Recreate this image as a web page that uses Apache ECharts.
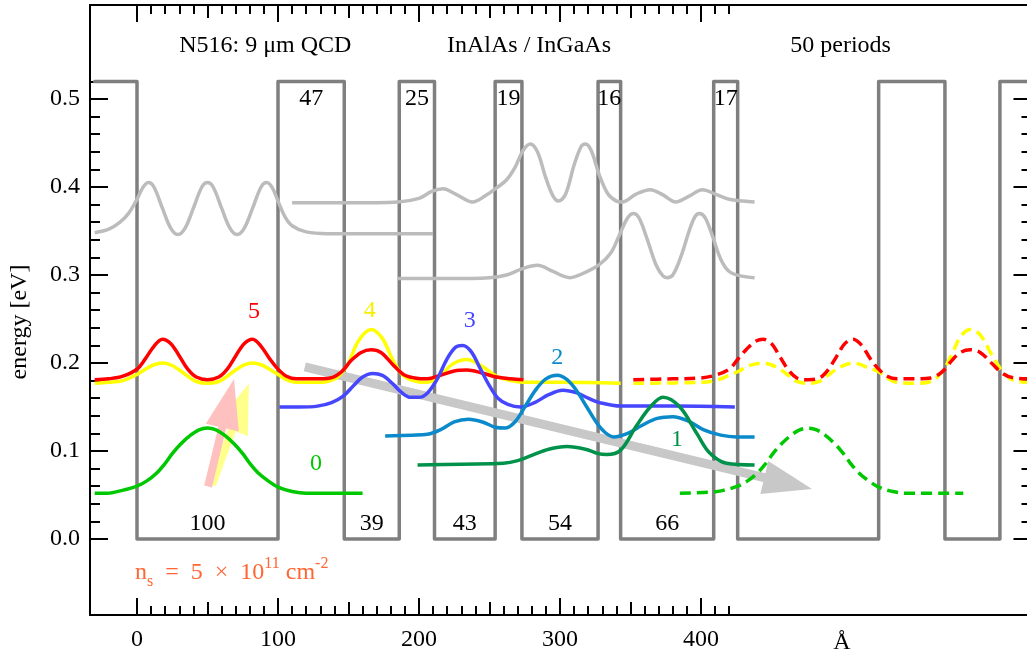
<!DOCTYPE html>
<html>
<head>
<meta charset="utf-8">
<script src="https://cdn.jsdelivr.net/npm/echarts@6.0.0/dist/echarts.min.js"></script>
<style>
html,body{margin:0;padding:0;background:#ffffff;}
#chart{width:1027px;height:660px;}
</style>
</head>
<body>
<div id="chart"></div>
<script>
// ================= DATA =================
const layerThickness = [100, 47, 39, 25, 43, 19, 54, 16, 66, 17]; // Å : well, barrier, well, ...
const barrierHeight = 0.52;   // eV
const profileStartX = -30;    // Å
const periodsDrawn = 2;

const xTickLabels = ['0', '100', '200', '300', '400'];
const yTickLabels = ['0.0', '0.1', '0.2', '0.3', '0.4', '0.5'];
const xUnitLabel = 'Å';
const yAxisTitle = 'energy [eV]';
const headerTexts = ['N516: 9 μm QCD', 'InAlAs / InGaAs', '50 periods'];
const stateNames = ['0', '1', '2', '3', '4', '5'];

// wavefunctions |psi|^2 offset by level energy: [Å, eV]
const state0 = [[-30,0.052],[-21,0.052],[-11,0.055],[0,0.060],[7,0.066],[14,0.075],[20,0.086],[25,0.097],[31,0.108],[38,0.118],[44,0.124],[50,0.126],[56,0.124],[62,0.118],[69,0.108],[75,0.097],[80,0.086],[86,0.075],[93,0.066],[100,0.059],[110,0.054],[120,0.052],[160,0.052]];
const state1 = [[199,0.084],[230,0.085],[260,0.086],[270,0.089],[280,0.095],[292,0.102],[305,0.105],[318,0.102],[327,0.097],[333,0.096],[343,0.101],[354,0.128],[364,0.150],[373,0.161],[385,0.150],[397,0.120],[406,0.098],[418,0.086],[438,0.084]];
const state2 = [[176,0.117],[195,0.118],[206,0.119],[215,0.124],[225,0.133],[235,0.136],[245,0.133],[254,0.127],[261,0.126],[268,0.133],[275,0.150],[283,0.170],[290,0.182],[298,0.186],[305,0.181],[312,0.168],[319,0.150],[326,0.132],[332,0.121],[338,0.116],[348,0.120],[358,0.129],[369,0.137],[380,0.139],[391,0.134],[402,0.124],[414,0.118],[425,0.116],[438,0.116]];
const state3 = [[101,0.150],[115,0.150],[128,0.151],[138,0.155],[146,0.162],[154,0.175],[160,0.184],[167,0.188],[174,0.186],[181,0.177],[188,0.166],[194,0.161],[200,0.161],[206,0.166],[213,0.182],[220,0.205],[226,0.218],[231,0.220],[237,0.213],[243,0.195],[250,0.174],[256,0.160],[263,0.153],[272,0.150],[282,0.155],[292,0.164],[302,0.169],[312,0.166],[320,0.160],[328,0.155],[343,0.151],[380,0.151],[424,0.150]];
const state4 = [[-30,0.177],[-20,0.178],[-10,0.180],[0,0.187],[6,0.193],[12,0.198],[18,0.200],[24,0.198],[30,0.192],[36,0.185],[42,0.179],[50,0.177],[58,0.179],[64,0.185],[70,0.192],[76,0.198],[82,0.200],[88,0.198],[94,0.193],[100,0.187],[106,0.181],[113,0.178],[125,0.178],[135,0.179],[143,0.185],[150,0.200],[157,0.225],[166,0.238],[174,0.228],[181,0.205],[188,0.187],[196,0.180],[205,0.178],[214,0.184],[224,0.199],[234,0.204],[244,0.197],[255,0.185],[265,0.180],[274,0.178],[300,0.178],[343,0.177]];
const state5 = [[-30,0.181],[-20,0.182],[-10,0.185],[0,0.193],[6,0.205],[12,0.219],[18,0.227],[24,0.222],[30,0.208],[36,0.193],[42,0.184],[50,0.181],[58,0.184],[64,0.193],[70,0.208],[76,0.222],[82,0.227],[88,0.219],[94,0.205],[100,0.193],[106,0.185],[113,0.182],[125,0.182],[137,0.183],[145,0.190],[152,0.203],[159,0.212],[166,0.215],[173,0.212],[181,0.199],[189,0.187],[197,0.183],[206,0.182],[215,0.186],[225,0.191],[234,0.192],[244,0.189],[255,0.184],[265,0.182],[274,0.181]];

// next period (dashed)
const state0Next = [[385,0.052],[405,0.053],[415,0.055],[426,0.060],[433,0.066],[440,0.075],[446,0.086],[451,0.097],[457,0.108],[464,0.118],[470,0.124],[476,0.126],[482,0.124],[488,0.118],[495,0.108],[501,0.097],[506,0.086],[512,0.075],[519,0.066],[526,0.059],[536,0.054],[546,0.052],[586,0.052]];
const state4Next = [[352,0.177],[400,0.178],[410,0.180],[420,0.186],[426,0.190],[434,0.197],[444,0.200],[454,0.195],[462,0.186],[468,0.179],[476,0.177],[484,0.179],[490,0.186],[498,0.195],[508,0.200],[518,0.195],[526,0.190],[532,0.183],[539,0.178],[551,0.177],[563,0.179],[571,0.190],[578,0.210],[584,0.230],[591,0.238],[598,0.232],[606,0.210],[614,0.190],[622,0.180],[634,0.178]];
const state5Next = [[352,0.181],[380,0.182],[400,0.183],[410,0.186],[420,0.193],[426,0.204],[432,0.215],[438,0.224],[444,0.227],[450,0.222],[456,0.207],[462,0.192],[468,0.183],[476,0.181],[484,0.183],[490,0.192],[496,0.207],[502,0.222],[508,0.227],[514,0.220],[520,0.205],[526,0.193],[532,0.185],[539,0.182],[551,0.182],[563,0.183],[571,0.190],[578,0.203],[584,0.212],[591,0.215],[598,0.212],[606,0.200],[614,0.188],[622,0.183],[634,0.182]];

// higher (continuum-like) states, grey
const grayStateA = [[-30,0.348],[-20,0.352],[-12,0.360],[-6,0.370],[0,0.386],[4,0.399],[8,0.405],[12,0.400],[18,0.376],[24,0.353],[29,0.346],[34,0.353],[40,0.376],[46,0.400],[50,0.405],[54,0.400],[60,0.376],[66,0.353],[71,0.346],[76,0.353],[82,0.376],[88,0.400],[92,0.405],[96,0.399],[100,0.384],[105,0.366],[110,0.356],[120,0.349],[135,0.347],[210,0.347]];
const grayStateB = [[110,0.382],[150,0.382],[185,0.383],[200,0.387],[209,0.395],[217,0.398],[226,0.392],[238,0.383],[247,0.390],[255,0.399],[262,0.408],[268,0.422],[274,0.442],[279,0.449],[284,0.440],[290,0.410],[295,0.390],[299,0.384],[304,0.392],[310,0.425],[315,0.446],[318,0.449],[322,0.442],[328,0.413],[334,0.392],[340,0.384],[344,0.383],[354,0.392],[364,0.397],[373,0.391],[382,0.383],[392,0.390],[401,0.397],[410,0.392],[420,0.386],[430,0.384],[438,0.383]];
const grayStateC = [[185,0.296],[220,0.296],[250,0.297],[262,0.300],[273,0.307],[284,0.311],[295,0.304],[307,0.297],[318,0.303],[328,0.312],[336,0.325],[342,0.345],[348,0.365],[352,0.370],[356,0.365],[362,0.340],[368,0.312],[373,0.299],[376,0.297],[380,0.300],[386,0.322],[392,0.352],[396,0.367],[399,0.370],[403,0.365],[408,0.345],[414,0.318],[420,0.304],[428,0.299],[438,0.297]];

// arrows [x tail, y tail, x tip, y tip]
const arrowTransfer = [119, 0.1955, 478.7, 0.0568];
const arrowAbsorbRed = [50.4, 0.0597, 68.8, 0.1818];
const arrowAbsorbYellow = [53.2, 0.0614, 79.4, 0.177];

const sheetDensityText = '{m|n}{sub|s}{m|  =  5  ×  10}{sup|11}{m| cm}{sup|-2}';

// ================= LAYOUT / STYLE =================
const FONT = '"Liberation Serif", "DejaVu Serif", serif';
const FS = 24;
const COL = {
  s0:'#00c800', s1:'#00924a', s2:'#0a8acb', s3:'#4646ff', s4:'#ffff00', s5:'#ff0000',
  s4label:'#f5f000', gray:'#bcbcbc', band:'#7f7f7f', ns:'#ff6633',
  arrowGray:'#c8c8c8', arrowPink:'#ffc0c0', arrowYellow:'#ffff8c'
};
const stateLabelAt = [[127,0.085],[383,0.1125],[298,0.206],[236,0.248],[165,0.259],[83,0.258]];
const stateLabelColor = [COL.s0, COL.s1, COL.s2, COL.s3, COL.s4label, COL.s5];
const headerAt = [[91,0.561],[278,0.561],[499,0.561]];
const wellLabelY = 0.017, barrierLabelY = 0.5;

// pixel frame
const G = {left:90, top:5, width:941.5, height:610};
const X0PX = 137, PXA = 1.41, Y0PX = 539, PXE = 880;
const xMin = (G.left - X0PX) / PXA, xMax = xMin + G.width / PXA;
const yMax = (Y0PX - G.top) / PXE, yMin = yMax - G.height / PXE;

// ---------- derived geometry ----------
function buildProfile() {
  const pts = [[profileStartX, barrierHeight], [0, barrierHeight]];
  let x = 0;
  for (let p = 0; p < periodsDrawn; p++) {
    layerThickness.forEach((t, i) => {
      const e = (i % 2 === 0) ? 0 : barrierHeight;
      pts.push([x, e]); x += t; pts.push([x, e]);
    });
  }
  return pts;
}
function buildLayerLabels() {
  const out = []; let x = 0;
  layerThickness.forEach((t, i) => {
    out.push({ text: String(t), at: [x + t / 2, (i % 2 === 0) ? wellLabelY : barrierLabelY], color: '#000' });
    x += t;
  });
  return out;
}

const textItems = [];
headerTexts.forEach((t, i) => textItems.push({ text: t, at: headerAt[i], color: '#000' }));
buildLayerLabels().forEach(o => textItems.push(o));
stateNames.forEach((t, i) => textItems.push({ text: t, at: stateLabelAt[i], color: stateLabelColor[i] }));
textItems.push({ text: xUnitLabel, at: [500, -0.118], color: '#000' });
textItems.push({
  text: sheetDensityText, at: [-1.4, -0.0386], color: COL.ns, align: 'left',
  rich: {
    m:   { fontSize: FS, fontFamily: FONT, fill: COL.ns, lineHeight: 34, verticalAlign: 'middle' },
    sub: { fontSize: 16, fontFamily: FONT, fill: COL.ns, lineHeight: 34, verticalAlign: 'bottom' },
    sup: { fontSize: 16, fontFamily: FONT, fill: COL.ns, lineHeight: 34, verticalAlign: 'top' }
  }
});

function arrowPolygon(p1, p2, w, L, W) {
  const dx = p2[0] - p1[0], dy = p2[1] - p1[1];
  const len = Math.hypot(dx, dy);
  const ux = dx / len, uy = dy / len, nx = -uy, ny = ux;
  const bx = p2[0] - ux * L, by = p2[1] - uy * L;
  return [
    [p1[0] + nx * w / 2, p1[1] + ny * w / 2],
    [bx + nx * w / 2, by + ny * w / 2],
    [bx + nx * W / 2, by + ny * W / 2],
    [p2[0], p2[1]],
    [bx - nx * W / 2, by - ny * W / 2],
    [bx - nx * w / 2, by - ny * w / 2],
    [p1[0] - nx * w / 2, p1[1] - ny * w / 2]
  ];
}
function arrowSeries(arr, color, w, L, W, z) {
  return {
    type: 'custom', xAxisIndex: 0, yAxisIndex: 0, clip: false, silent: true, z,
    data: [arr],
    renderItem: (params, api) => {
      const p1 = api.coord([api.value(0), api.value(1)]);
      const p2 = api.coord([api.value(2), api.value(3)]);
      return { type: 'polygon', shape: { points: arrowPolygon(p1, p2, w, L, W) }, style: { fill: color } };
    }
  };
}
function lineSeries(data, color, dashed, z) {
  return {
    type: 'line', data, xAxisIndex: 0, yAxisIndex: 0, showSymbol: false, symbol: 'none',
    smooth: 0.35, clip: true, silent: true, z, animation: false,
    lineStyle: { color, width: 3.5, type: dashed ? [11, 6] : 'solid', cap: 'butt', join: 'round' }
  };
}

// ---------- axes ----------
const noAxis = (grid, min, max) => ({ gridIndex: grid, show: false, min, max, type: 'value' });
const frameAxis = (pos, min, max) => ({
  gridIndex: 0, type: 'value', position: pos, min, max,
  axisLine: { show: true, onZero: false, lineStyle: { color: '#000', width: 2 } },
  axisTick: { show: false }, axisLabel: { show: false }, splitLine: { show: false }
});
const tickAxis = (grid, pos, min, max, interval, len, labels, margin) => ({
  gridIndex: grid, type: 'value', position: pos, min, max, interval,
  axisLine: { show: false, onZero: false },
  axisTick: { show: true, inside: true, length: len, lineStyle: { color: '#000', width: 2 } },
  axisLabel: labels ? {
    show: true, margin, color: '#000', fontFamily: FONT, fontSize: FS,
    formatter: (v, i) => labels[i] !== undefined ? labels[i] : ''
  } : { show: false },
  splitLine: { show: false }, minorTick: { show: false }
});

const option = {
  animation: false,
  backgroundColor: '#ffffff',
  grid: [
    { left: G.left, top: G.top, width: G.width, height: G.height, outerBoundsMode: 'none', containLabel: false },
    { left: X0PX, top: G.top, width: 420 * PXA, height: G.height, outerBoundsMode: 'none' },
    { left: X0PX, top: G.top, width: 400 * PXA, height: G.height, outerBoundsMode: 'none' },
    { left: X0PX, top: G.top, width: 400 * PXA, height: G.height, outerBoundsMode: 'none' },
    { left: G.left, top: Y0PX - 0.52 * PXE, width: G.width, height: 0.52 * PXE, outerBoundsMode: 'none' },
    { left: G.left, top: Y0PX - 0.5 * PXE, width: G.width, height: 0.5 * PXE, outerBoundsMode: 'none' }
  ],
  xAxis: [
    frameAxis('bottom', xMin, xMax),
    frameAxis('top', xMin, xMax),
    tickAxis(1, 'bottom', 0, 420, 10, 9),
    tickAxis(1, 'top', 0, 420, 10, 9),
    tickAxis(2, 'bottom', 0, 400, 50, 13),
    tickAxis(2, 'top', 0, 400, 50, 13),
    tickAxis(3, 'bottom', 0, 400, 100, 17, xTickLabels, 13),
    tickAxis(3, 'top', 0, 400, 100, 17),
    noAxis(4, 0, 1),
    noAxis(5, 0, 1)
  ],
  yAxis: [
    frameAxis('left', yMin, yMax),
    frameAxis('right', yMin, yMax),
    noAxis(1, 0, 1), noAxis(2, 0, 1), noAxis(3, 0, 1),
    tickAxis(4, 'left', 0, 0.52, 0.02, 10),
    tickAxis(4, 'right', 0, 0.52, 0.02, 10),
    tickAxis(5, 'left', 0, 0.5, 0.1, 18, yTickLabels, 10),
    tickAxis(5, 'right', 0, 0.5, 0.1, 18)
  ],
  graphic: [{
    type: 'text', x: 20, y: 322, rotation: Math.PI / 2,
    style: { text: yAxisTitle, fill: '#000', fontFamily: FONT, fontSize: FS, align: 'center', verticalAlign: 'middle' }
  }],
  series: [
    {
      type: 'line', data: buildProfile(), xAxisIndex: 0, yAxisIndex: 0, showSymbol: false, symbol: 'none',
      clip: true, silent: true, z: 1,
      lineStyle: { color: COL.band, width: 3.5, join: 'round', cap: 'round' }
    },
    arrowSeries(arrowTransfer, COL.arrowGray, 9, 49, 34, 2),
    arrowSeries(arrowAbsorbYellow, COL.arrowYellow, 8, 50, 34, 2),
    arrowSeries(arrowAbsorbRed, COL.arrowPink, 8, 50, 34, 2),
    lineSeries(grayStateA, COL.gray, false, 3),
    lineSeries(grayStateB, COL.gray, false, 3),
    lineSeries(grayStateC, COL.gray, false, 3),
    lineSeries(state4, COL.s4, false, 3),
    lineSeries(state5, COL.s5, false, 3),
    lineSeries(state3, COL.s3, false, 3),
    lineSeries(state2, COL.s2, false, 3),
    lineSeries(state1, COL.s1, false, 3),
    lineSeries(state0, COL.s0, false, 3),
    lineSeries(state4Next, COL.s4, true, 3),
    lineSeries(state5Next, COL.s5, true, 3),
    lineSeries(state0Next, COL.s0, true, 3),
    {
      type: 'custom', xAxisIndex: 0, yAxisIndex: 0, clip: false, silent: true, z: 5,
      data: textItems.map(t => t.at),
      renderItem: (params, api) => {
        const t = textItems[params.dataIndex];
        const p = api.coord(t.at);
        const style = {
          text: t.text, fill: t.color, fontFamily: FONT, fontSize: FS,
          align: t.align || 'center', verticalAlign: 'middle'
        };
        if (t.rich) style.rich = t.rich;
        return { type: 'text', x: p[0], y: p[1], style };
      }
    }
  ]
};

const chart = echarts.init(document.getElementById('chart'), null, { renderer: 'canvas' });
chart.setOption(option);
</script>
</body>
</html>
